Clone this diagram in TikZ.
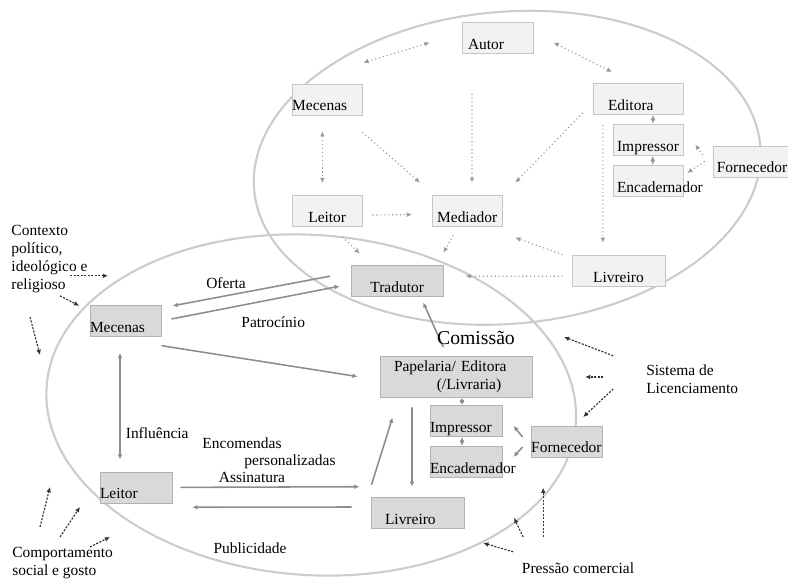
\documentclass[tikz,border=0pt]{standalone}
\usepackage{fontspec}
\setmainfont{Liberation Serif}
\usepackage{tikz}
\usetikzlibrary{arrows.meta}
\newcommand{\boxfont}{\fontsize{11}{13}\selectfont}
\newcommand{\bigfont}{\fontsize{14}{16}\selectfont}

\begin{document}
\begin{tikzpicture}[
    ring/.style={draw=gray!40, line width=1.5pt},
    upbox/.style={draw=gray!45, fill=gray!10, inner sep=0pt, text height=0.68cm,
                  text depth=0.1cm, minimum width=#1, font=\boxfont},
    upbox/.default=1.75cm,
    lowbox/.style={upbox=#1, draw=gray!60, fill=gray!30},
    lowbox/.default=1.75cm,
    lft/.style={text width=#1, align=left},
    txt/.style={inner sep=0pt, font=\boxfont, align=left},
    dotlink/.style={draw=gray!80, dotted, line width=0.8pt},
    link/.style={draw=gray!90, line width=1.1pt},
    ext/.style={draw=black!80, dash pattern=on 1.5pt off 1pt, line width=0.8pt, ->},
    >={Latex[length=1.3mm,width=1.2mm]}
]
\useasboundingbox (0,0) rectangle (19.7,14.475);
% ============== Upper circle: agents of the book trade ==================
\draw[ring, rotate around={5:(12.68,10.28)}] (12.68,10.28) ellipse (6.35 and 3.9);
\node[upbox=1.78cm, lft=1.48cm, inner xsep=0.15cm] (autor) at (12.44,13.53) {Autor};
\node[upbox, lft=1.75cm] (mecT) at (8.18,11.99) {Mecenas};
\node[upbox=2.25cm, lft=1.5cm, inner xsep=0.375cm] (editora) at (15.95,12.0) {Editora};
\node[upbox] (impT) at (16.2,10.98) {Impressor};
\node[upbox, lft=1.55cm, inner xsep=0.1cm] (encT) at (16.2,9.95) {\mbox{Encadernador}};
\node[upbox=1.95cm] (fornT) at (18.8,10.44) {Fornecedor};
\node[upbox] (leitT) at (8.18,9.2) {Leitor};
\node[upbox] (mediador) at (11.68,9.21) {Mediador};
\node[upbox=2.33cm] (livT) at (15.46,7.71) {Livreiro};
% dotted relations
\draw[dotlink, <->] ([shift={(-0.8,-0.12)}]autor.west) -- ([shift={(0.02,0.52)}]mecT.north east);
\draw[dotlink, <->] ([shift={(0.5,-0.12)}]autor.east) -- ([shift={(-0.65,0.28)}]editora.north);
\draw[dotlink, <->] ([shift={(-0.12,-0.4)}]mecT.south) -- ([shift={(-0.12,0.3)}]leitT.north);
\draw[dotlink, ->] ([shift={(0,-0.42)}]mecT.south east) -- ([shift={(-0.3,0.3)}]mediador.north west);
\draw[dotlink, ->] ([shift={(-0.64,-1)}]autor.south) -- ([shift={(0.12,0.3)}]mediador.north);
\draw[dotlink, ->] ([shift={(-0.25,0.05)}]editora.south west) -- ([shift={(0.32,0.3)}]mediador.north east);
\draw[dotlink, ->] ([shift={(-0.88,-0.25)}]editora.south) -- ([shift={(-0.39,0.3)}]livT.north);
\draw[dotlink, <->] ([xshift=0.38cm]editora.south) -- ([xshift=0.12cm]impT.north);
\draw[dotlink, <->] ([xshift=0.12cm]impT.south) -- ([xshift=0.12cm]encT.north);
\draw[dotlink, ->] ([shift={(-0.25,0.16)}]fornT.west) -- ([shift={(0.3,-0.12)}]impT.east);
\draw[dotlink, ->] ([shift={(-0.2,0)}]fornT.west) -- ([shift={(0.1,0.2)}]encT.east);
\draw[dotlink, ->] ([shift={(0.25,-0.1)}]leitT.east) -- ([shift={(-0.5,-0.1)}]mediador.west);
\draw[dotlink, ->] ([xshift=-0.22cm]livT.north west) -- ([shift={(0.32,-0.28)}]mediador.south east);
% ============== Lower circle: the translated book ==================
\draw[ring, rotate around={-4:(7.78,4.35)}] (7.78,4.35) ellipse (6.63 and 4.25);
\node[lowbox=2.3cm] (tradutor) at (9.93,7.46) {Tradutor};
\node[lowbox=1.78cm, lft=1.78cm] (mecB) at (3.14,6.45) {Mecenas};
\node[draw=gray!60, fill=gray!30, font=\boxfont, inner ysep=0pt, inner xsep=0.35cm,
      minimum width=3.8cm, minimum height=1.03cm, lft=3.1cm]
      (papel) at (11.4,5.06) {Papelaria/ Editora\\\hspace*{1.07cm}(/Livraria)};
\node[lowbox=1.8cm, lft=1.8cm] (impB) at (11.65,3.95) {Impressor};
\node[lowbox=1.8cm, lft=1.8cm] (encB) at (11.65,2.93) {\mbox{Encadernador}};
\node[lowbox=1.78cm] (fornB) at (14.16,3.44) {Fornecedor};
\node[lowbox=2.33cm, lft=1.63cm, inner xsep=0.35cm] (livB) at (10.44,1.66) {Livreiro};
\node[lowbox=1.8cm, lft=1.8cm] (leitB) at (3.4,2.29) {Leitor};
% dotted relations into the translator
\draw[dotlink, ->] ([shift={(-0.5,-0.25)}]leitT.south east) -- ([shift={(0.22,0.28)}]tradutor.north west);
\draw[dotlink, ->] ([shift={(-0.35,-0.22)}]mediador.south) -- ([yshift=0.3cm]tradutor.north east);
\draw[dotlink, ->] ([shift={(-0.22,-0.14)}]livT.west) -- ([shift={(0.55,0.11)}]tradutor.east);
% solid relations
\draw[link, ->] ([shift={(-0.52,0.11)}]tradutor.west) -- ([shift={(0.28,0.38)}]mecB.east);
\draw[link, ->] ([shift={(0.25,0.05)}]mecB.east) -- ([shift={(-0.28,-0.14)}]tradutor.west);
\draw[link, ->] ([shift={(0,-0.22)}]mecB.south east) -- ([xshift=-0.55cm]papel.west);
\draw[link, ->] ([shift={(-0.32,0.22)}]papel.north) -- ([shift={(0.65,-0.15)}]tradutor.south);
\draw[link, <->] ([shift={(-0.14,-0.4)}]mecB.south) -- ([shift={(-0.4,0.3)}]leitB.north);
\draw[link, ->] ([xshift=0.2cm]leitB.east) -- ([shift={(-0.28,0.25)}]livB.north west);
\draw[link, ->] ([shift={(-0.48,0.14)}]livB.west) -- ([shift={(0.5,-0.1)}]leitB.south east);
\draw[link, ->] ([shift={(0.02,0.3)}]livB.north west) -- ([shift={(0.32,-0.5)}]papel.south west);
\draw[link, ->] ([shift={(-1.1,-0.25)}]papel.south) -- ([shift={(-0.14,0.25)}]livB.north);
\draw[link, <->] ([xshift=0.15cm]papel.south) -- ([xshift=-0.1cm]impB.north);
\draw[link, <->] ([xshift=-0.1cm]impB.south) -- ([xshift=-0.1cm]encB.north);
\draw[link, ->] ([shift={(-0.2,0.11)}]fornB.west) -- ([shift={(0.28,-0.12)}]impB.east);
\draw[link, ->] ([shift={(-0.2,-0.14)}]fornB.west) -- ([shift={(0.28,0.12)}]encB.east);
% labels
\node[txt, font=\bigfont] (comissao) at (11.9,6.03) {Comissão};
\node[txt] (oferta) at (5.65,7.4) {Oferta};
\node[txt] (patrocinio) at (6.83,6.43) {Patrocínio};
\node[txt] (influencia) at (3.93,3.65) {Influência};
\node[txt] (encomendas) at (6.05,3.4) {Encomendas};
\node[txt] (personal) at (7.25,2.93) {personalizadas};
\node[txt] (assinatura) at (6.3,2.55) {Assinatura};
\node[txt] (publicidade) at (6.25,0.78) {Publicidade};
% ============== Outside forces ==================
\node[txt, anchor=west] (contexto) at (0.28,8.0) {Contexto\\político,\\ideológico e\\religioso};
\node[txt, anchor=west] (comport) at (0.3,0.39) {Comportamento\\social e gosto};
\node[txt, anchor=west] (sistema) at (16.15,5.0) {Sistema de\\Licenciamento};
\node[txt] (pressao) at (14.45,0.28) {Pressão comercial};
\coordinate (ctx1a) at (1.75,7.58);   \coordinate (ctx1b) at (2.7,7.58);
\coordinate (ctx2a) at (1.5,7.08);    \coordinate (ctx2b) at (1.98,6.83);
\coordinate (ctx3a) at (0.75,6.55);   \coordinate (ctx3b) at (1.0,5.6);
\coordinate (cmp1a) at (1.0,1.3);     \coordinate (cmp1b) at (1.25,2.3);
\coordinate (cmp2a) at (1.5,1.05);    \coordinate (cmp2b) at (2.0,1.8);
\coordinate (cmp3a) at (2.25,0.8);    \coordinate (cmp3b) at (2.75,1.05);
\coordinate (lic1a) at (15.33,5.58);  \coordinate (lic1b) at (14.1,6.05);
\coordinate (lic2a) at (15.08,5.05);  \coordinate (lic2b) at (14.63,5.05);
\coordinate (lic3a) at (15.33,4.75);  \coordinate (lic3b) at (14.58,4.05);
\coordinate (prs1a) at (12.83,0.68);  \coordinate (prs1b) at (12.08,0.9);
\coordinate (prs2a) at (13.08,1.05);  \coordinate (prs2b) at (12.85,1.53);
\coordinate (prs3a) at (13.58,1.05);  \coordinate (prs3b) at (13.58,2.28);
\draw[ext] (ctx1a) -- (ctx1b);
\draw[ext] (ctx2a) -- (ctx2b);
\draw[ext] (ctx3a) -- (ctx3b);
\draw[ext] (cmp1a) -- (cmp1b);
\draw[ext] (cmp2a) -- (cmp2b);
\draw[ext] (cmp3a) -- (cmp3b);
\draw[ext] (lic1a) -- (lic1b);
\draw[ext] (lic2a) -- (lic2b);
\draw[ext] (lic3a) -- (lic3b);
\draw[ext] (prs1a) -- (prs1b);
\draw[ext] (prs2a) -- (prs2b);
\draw[ext] (prs3a) -- (prs3b);
\end{tikzpicture}
\end{document}
